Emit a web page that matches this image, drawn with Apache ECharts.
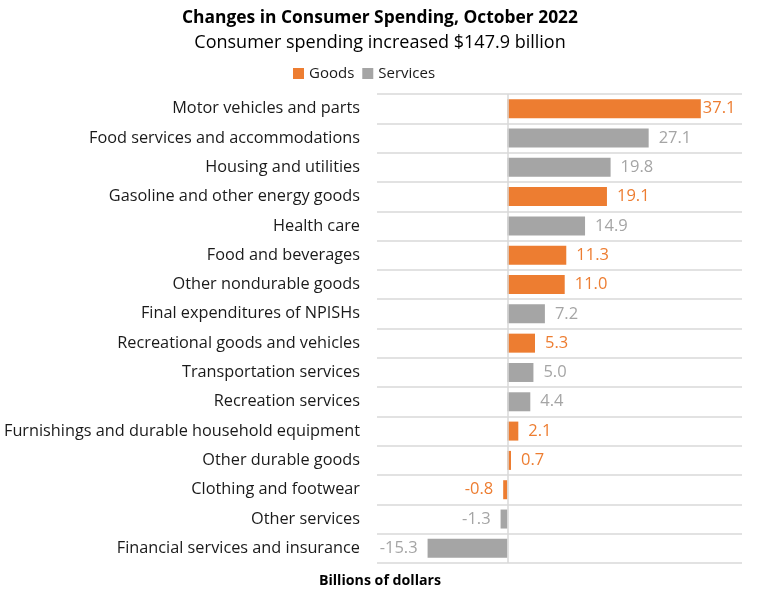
<!DOCTYPE html>
<html lang="en">
<head>
  <meta charset="UTF-8">
  <title>Changes in Consumer Spending</title>
  <style>
    html, body, #main { margin: 0; padding: 0; background: #fff; }
    #main { width: 760px; height: 590px; }
  </style>
</head>
<body>
  <div id="main"></div>
  <script src="https://cdn.jsdelivr.net/npm/echarts@6/dist/echarts.min.js"></script>
  <script>
    const categories = [
      'Motor vehicles and parts',
      'Food services and accommodations',
      'Housing and utilities',
      'Gasoline and other energy goods',
      'Health care',
      'Food and beverages',
      'Other nondurable goods',
      'Final expenditures of NPISHs',
      'Recreational goods and vehicles',
      'Transportation services',
      'Recreation services',
      'Furnishings and durable household equipment',
      'Other durable goods',
      'Clothing and footwear',
      'Other services',
      'Financial services and insurance'
    ];
    const values = [37.1, 27.1, 19.8, 19.1, 14.9, 11.3, 11.0, 7.2, 5.3, 5.0, 4.4, 2.1, 0.7, -0.8, -1.3, -15.3];
    const kinds = ['G', 'S', 'S', 'G', 'S', 'G', 'G', 'S', 'G', 'S', 'S', 'G', 'G', 'G', 'S', 'S'];

    const ORANGE = '#ED7D31';
    const GREY = '#A5A5A5';
    const FONT = 'Open Sans';

    // one series per kind; other rows left empty so the stack keeps one bar per row
    const seriesData = (kind) => values.map((v, i) => {
      if (kinds[i] !== kind) return '-';
      return {
        value: v,
        label: {
          position: v < 0 ? 'left' : 'right',
          distance: v > 35 ? 2 : 10
        }
      };
    });

    const labelStyle = (color) => ({
      show: true,
      color: color,
      fontSize: 16.5,
      fontFamily: FONT,
      formatter: (p) => p.value.toFixed(1)
    });

    const myChart = echarts.init(document.getElementById('main'));
    const option = {
      animation: false,
      textStyle: { fontFamily: FONT },
      title: [
        {
          text: 'Changes in Consumer Spending, October 2022',
          left: 'center',
          top: 5,
          textStyle: { fontSize: 17.4, fontWeight: 'bold', color: '#000', fontFamily: FONT }
        },
        {
          text: 'Consumer spending increased $147.9 billion',
          left: 'center',
          top: 29,
          textStyle: { fontSize: 18, fontWeight: 'normal', color: '#000', fontFamily: FONT }
        },
        {
          text: 'Billions of dollars',
          left: 'center',
          top: 569,
          textStyle: { fontSize: 14.2, fontWeight: 'bold', color: '#000', fontFamily: FONT }
        }
      ],
      legend: {
        top: 61,
        left: 288,
        itemWidth: 11,
        itemHeight: 11,
        itemGap: 8,
        icon: 'rect',
        textStyle: { fontSize: 15, color: '#1a1a1a', fontFamily: FONT },
        data: ['Goods', 'Services']
      },
      grid: {
        left: 377,
        right: 18,
        top: 94,
        bottom: 27,
        containLabel: false
      },
      xAxis: {
        type: 'value',
        min: -25,
        max: 45,
        interval: 5,
        axisLabel: { show: false },
        axisTick: { show: false },
        axisLine: { show: false },
        splitLine: { show: false }
      },
      yAxis: {
        type: 'category',
        inverse: true,
        data: categories,
        axisLine: { show: false },
        axisTick: { show: false },
        axisLabel: {
          margin: 17,
          fontSize: 16.3,
          color: '#1a1a1a',
          fontFamily: FONT
        },
        splitLine: {
          show: true,
          interval: 0,
          lineStyle: { color: '#d9d9d9', width: 1.5 }
        }
      },
      series: [
        {
          name: 'Goods',
          type: 'bar',
          stack: 'all',
          barWidth: 19,
          itemStyle: { color: ORANGE },
          label: labelStyle(ORANGE),
          data: seriesData('G'),
          markLine: {
            silent: true,
            symbol: 'none',
            label: { show: false },
            lineStyle: { color: '#d9d9d9', type: 'solid', width: 1.5 },
            data: [{ xAxis: 0 }]
          }
        },
        {
          name: 'Services',
          type: 'bar',
          stack: 'all',
          barWidth: 19,
          itemStyle: { color: GREY },
          label: labelStyle(GREY),
          data: seriesData('S')
        }
      ]
    };

    myChart.setOption(option);
  </script>
</body>
</html>
